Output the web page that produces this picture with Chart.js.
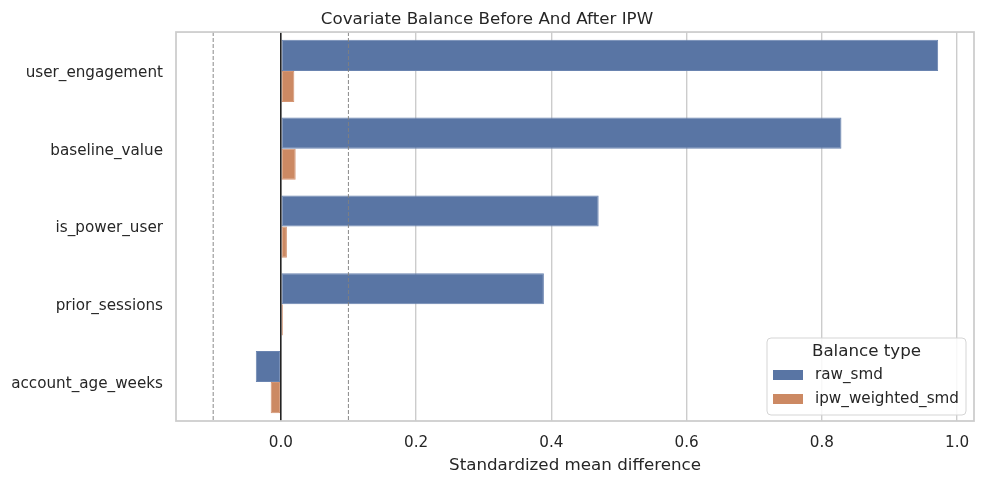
<!DOCTYPE html>
<html>
<head>
<meta charset="utf-8">
<script src="https://cdn.jsdelivr.net/npm/chart.js@4.4.0/dist/chart.umd.min.js"></script>
<style>
  html, body { margin: 0; padding: 0; background: #fff; }
  #wrap { width: 984px; height: 484px; }
</style>
</head>
<body>
<div id="wrap"><canvas id="smdChart"></canvas></div>
<script>
// --- Data ---
const covariates = ['user_engagement', 'baseline_value', 'is_power_user', 'prior_sessions', 'account_age_weeks'];
const rawSmd = [0.972, 0.829, 0.470, 0.389, -0.037];
const ipwWeightedSmd = [0.020, 0.022, 0.009, 0.003, -0.015];
const xTicks = [0.0, 0.2, 0.4, 0.6, 0.8, 1.0];
const refLines = [-0.1, 0.1];
const xMin = -0.155;
const xMax = 1.025;

const textColor = '#262626';
const fontFamily = '"DejaVu Sans", sans-serif';

// reference lines, frame and legend drawn on the canvas
const overlayPlugin = {
  id: 'overlay',
  afterDatasetsDraw(chart) {
    const ctx = chart.ctx;
    const area = chart.chartArea;
    const x = chart.scales.x;
    ctx.save();
    // dashed +/- 0.1 thresholds
    ctx.strokeStyle = 'rgba(128,128,128,0.85)';
    ctx.lineWidth = 1.1;
    ctx.setLineDash([4, 2]);
    refLines.forEach(v => {
      const px = x.getPixelForValue(v);
      ctx.beginPath();
      ctx.moveTo(px, area.top);
      ctx.lineTo(px, area.bottom);
      ctx.stroke();
    });
    // zero line
    ctx.setLineDash([]);
    ctx.strokeStyle = '#000';
    ctx.lineWidth = 1.3;
    const zx = x.getPixelForValue(0);
    ctx.beginPath();
    ctx.moveTo(zx, area.top);
    ctx.lineTo(zx, area.bottom);
    ctx.stroke();
    // frame
    ctx.strokeStyle = '#cccccc';
    ctx.lineWidth = 1.75;
    ctx.strokeRect(area.left, area.top, area.right - area.left, area.bottom - area.top);
    ctx.restore();
  },
  afterDraw(chart) {
    const ctx = chart.ctx;
    const bx = 767, by = 338, bw = 199, bh = 77;
    ctx.save();
    ctx.fillStyle = 'rgba(255,255,255,0.85)';
    ctx.strokeStyle = '#d5d5d5';
    ctx.lineWidth = 1;
    ctx.beginPath();
    ctx.roundRect(bx, by, bw, bh, 4);
    ctx.fill();
    ctx.stroke();

    ctx.fillStyle = textColor;
    ctx.textBaseline = 'middle';
    ctx.textAlign = 'center';
    ctx.font = '16.7px ' + fontFamily;
    ctx.fillText('Balance type', bx + bw / 2, by + 14);

    ctx.textAlign = 'left';
    ctx.font = '15.2px ' + fontFamily;
    chart.data.datasets.forEach((ds, i) => {
      const cy = by + 37 + i * 24;
      ctx.fillStyle = ds.backgroundColor;
      ctx.fillRect(bx + 6, cy - 5, 30, 10);
      ctx.fillStyle = textColor;
      ctx.fillText(ds.label, bx + 48, cy);
    });
    ctx.restore();
  }
};

new Chart(document.getElementById('smdChart'), {
  type: 'bar',
  data: {
    labels: covariates,
    datasets: [
      { label: 'raw_smd', data: rawSmd, backgroundColor: '#5975a4', borderColor: '#6a84b0', borderWidth: 1, borderSkipped: false },
      { label: 'ipw_weighted_smd', data: ipwWeightedSmd, backgroundColor: '#cc8963', borderColor: '#d49573', borderWidth: 1, borderSkipped: false }
    ]
  },
  options: {
    indexAxis: 'y',
    responsive: true,
    maintainAspectRatio: false,
    animation: false,
    layout: { padding: { left: 0, right: 10, top: 0, bottom: 0 } },
    datasets: { bar: { categoryPercentage: 0.8, barPercentage: 1.0 } },
    plugins: {
      legend: { display: false },
      tooltip: { enabled: false },
      title: {
        display: true,
        text: 'Covariate Balance Before And After IPW',
        color: textColor,
        font: { family: fontFamily, size: 16.7, weight: 'normal' },
        padding: { top: 10, bottom: 2 }
      }
    },
    scales: {
      x: {
        type: 'linear',
        min: xMin,
        max: xMax,
        afterBuildTicks(scale) { scale.ticks = xTicks.map(v => ({ value: v })); },
        ticks: {
          color: textColor,
          font: { family: fontFamily, size: 15.2 },
          padding: 13,
          maxRotation: 0,
          callback: v => Number(v).toFixed(1)
        },
        grid: { color: '#cccccc', lineWidth: 1.4, drawTicks: false },
        border: { display: false },
        title: {
          display: true,
          text: 'Standardized mean difference',
          color: textColor,
          font: { family: fontFamily, size: 16.7 },
          padding: { top: 4, bottom: 8 }
        },
        afterFit(scale) { scale.height = 63; }
      },
      y: {
        grid: { display: false, drawTicks: false },
        border: { display: false },
        ticks: {
          color: textColor,
          font: { family: fontFamily, size: 15.2 },
          padding: 13,
          labelOffset: 2
        },
        afterFit(scale) { scale.width = 176; }
      }
    }
  },
  plugins: [overlayPlugin]
});
</script>
</body>
</html>
